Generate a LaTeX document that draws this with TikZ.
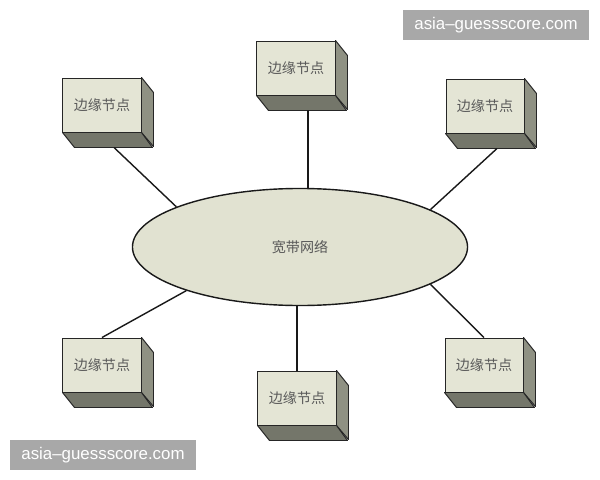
\documentclass[tikz,border=0pt]{standalone}
\usepackage{fontspec}
\newfontfamily\cjk{Noto Sans CJK SC}
\newfontfamily\wmfont{Liberation Sans}
\usetikzlibrary{shapes.geometric}
\definecolor{facefill}{HTML}{E4E5D5}
\definecolor{netfill}{HTML}{E1E2D1}
\definecolor{sidefill}{HTML}{8F9183}
\definecolor{basefill}{HTML}{74766A}
\definecolor{wmgray}{HTML}{A8A8A8}

\begin{document}
\begin{tikzpicture}[
        x=0.025cm, y=-0.025cm, % 1 unit = 1 px of the picture
        front/.style={rectangle, draw=black!85, line width=0.7pt, fill=facefill,
            minimum width=1.95cm, minimum height=1.35cm, inner sep=0pt,
            font=\cjk\fontsize{10}{12}\selectfont, text=black!65},
        side/.style={draw=black!85, line width=0.7pt, line join=round},
        net/.style={ellipse, draw=black!90, line width=1pt, fill=netfill,
            minimum width=8.375cm, minimum height=2.925cm, inner sep=0pt,
            font=\cjk\fontsize{10}{12}\selectfont, text=black!65},
        link/.style={draw=black!90, line width=1pt},
        wmark/.style={fill=wmgray, text=white, minimum width=4.65cm, minimum height=0.75cm,
            inner sep=0pt, font=\wmfont\fontsize{12}{14}\selectfont},
    ]
    \useasboundingbox[fill=white] (0,0) rectangle (600,480);

    % edge nodes, drawn as boxes
    \foreach \x/\y/\name in {102/105/tl, 296/68/tc, 485/106/tr, 102/365/bl, 297/398/bc, 484/365/br} {
        \node[front] (\name) at (\x,\y) {边缘节点};
        \filldraw[side, fill=sidefill] (\name.north east) -- ++(12,15) -- ++(0,54) -- (\name.south east) -- cycle;
        \filldraw[side, fill=basefill] (\name.south west) -- ++(12,15) -- ++(78,0) -- (\name.south east) -- cycle;
        \coordinate (\name-b) at ([shift={(12,15)}]\name.south);
    }

    % broadband network
    \node[net] (net) at (300,247) {宽带网络};

    \draw[link] (tl-b) -- (net.162);
    \draw[link] (tc-b) -- (tc-b |- net.north);
    \draw[link] (tr-b) -- (net.16);
    \draw[link] (bl.north) -- (net.201);
    \draw[link] (bc.north) -- (bc.north |- net.south);
    \draw[link] (br.north) -- (net.344);

    % watermarks
    \node[wmark] (wm1) at (496,25) {asia–guessscore.com};
    \node[wmark] (wm2) at (103,455) {asia–guessscore.com};
\end{tikzpicture}
\end{document}
